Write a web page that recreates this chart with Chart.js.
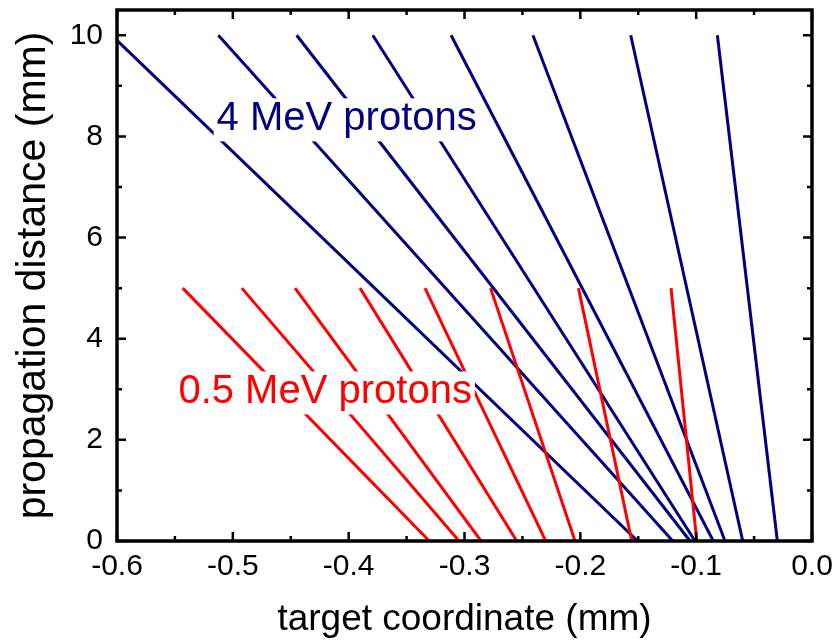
<!DOCTYPE html>
<html>
<head>
<meta charset="utf-8">
<script src="https://cdn.jsdelivr.net/npm/chart.js@4/dist/chart.umd.min.js"></script>
<style>
  body { margin: 0; background: #fff; }
</style>
</head>
<body>
<canvas id="protonChart" width="837" height="643"></canvas>
<script>
// 4 MeV protons: start point (top) and where each one hits the target (y = 0)
const blueStartX = [-0.6, -0.5125, -0.4449, -0.3792, -0.3116, -0.2409, -0.1565, -0.0817];
const blueStartY = [9.9, 10, 10, 10, 10, 10, 10, 10];
const blueEndX   = [-0.1505, -0.1202, -0.1053, -0.1010, -0.0852, -0.0751, -0.0598, -0.0299];

// 0.5 MeV protons
const redStartX = [-0.5433, -0.4923, -0.4463, -0.3902, -0.3341, -0.2775, -0.2016, -0.1217];
const redStartY = [5, 5, 5, 5, 5, 5, 5, 5];
const redEndX   = [-0.3304, -0.3047, -0.2857, -0.2549, -0.2299, -0.2046, -0.1556, -0.0995];

const xTickValues = [-0.6, -0.5, -0.4, -0.3, -0.2, -0.1, 0.0];
const yTickValues = [0, 2, 4, 6, 8, 10];

// text labels, anchored at left/baseline in data coords
const labelText = ['4 MeV protons', '0.5 MeV protons'];
const labelX = [-0.514, -0.547];
const labelY = [8.12, 2.72];
const labelColor = ['#000080', '#ff0000'];

const FONT = '"Liberation Sans", Arial, Helvetica, sans-serif';

function track(x0, y0, x1, color) {
    return {
        data: [{ x: x0, y: y0 }, { x: x1, y: 0 }],
        borderColor: color,
        borderWidth: 3,
        pointRadius: 0,
        showLine: true,
        fill: false
    };
}

// dataset 0 is drawn last, so red goes first to sit on top
const datasets = [];
redStartX.forEach((x, i) => datasets.push(track(x, redStartY[i], redEndX[i], '#ff0000')));
blueStartX.forEach((x, i) => datasets.push(track(x, blueStartY[i], blueEndX[i], '#000080')));

const frameAndLabels = {
    id: 'frameAndLabels',
    afterDatasetsDraw(chart) {
        const { ctx, chartArea: a, scales: { x, y } } = chart;
        ctx.save();

        // labels on white boxes
        ctx.font = '40px ' + FONT;
        ctx.textBaseline = 'alphabetic';
        ctx.textAlign = 'left';
        labelText.forEach((t, i) => {
            const px = x.getPixelForValue(labelX[i]);
            const py = y.getPixelForValue(labelY[i]);
            const w = ctx.measureText(t).width;
            ctx.fillStyle = '#fff';
            ctx.fillRect(px - 3, py - 32, w + 6, 43);
            ctx.fillStyle = labelColor[i];
            ctx.fillText(t, px, py);
        });

        // inward ticks on all four sides
        ctx.strokeStyle = '#000';
        ctx.lineWidth = 2.5;
        ctx.beginPath();
        const xs = x.ticks.map(t => t.value);
        xs.forEach((v, i) => {
            const p = x.getPixelForValue(v);
            ctx.moveTo(p, a.bottom); ctx.lineTo(p, a.bottom - 9);
            ctx.moveTo(p, a.top); ctx.lineTo(p, a.top + 9);
            if (i < xs.length - 1) {
                const m = x.getPixelForValue((v + xs[i + 1]) / 2);
                ctx.moveTo(m, a.bottom); ctx.lineTo(m, a.bottom - 5);
                ctx.moveTo(m, a.top); ctx.lineTo(m, a.top + 5);
            }
        });
        const ys = y.ticks.map(t => t.value);
        ys.forEach((v, i) => {
            const p = y.getPixelForValue(v);
            ctx.moveTo(a.left, p); ctx.lineTo(a.left + 9, p);
            ctx.moveTo(a.right, p); ctx.lineTo(a.right - 9, p);
            if (i < ys.length - 1) {
                const m = y.getPixelForValue((v + ys[i + 1]) / 2);
                ctx.moveTo(a.left, m); ctx.lineTo(a.left + 5, m);
                ctx.moveTo(a.right, m); ctx.lineTo(a.right - 5, m);
            }
        });
        ctx.stroke();

        // frame
        ctx.lineWidth = 3.5;
        ctx.strokeRect(a.left, a.top, a.right - a.left, a.bottom - a.top);
        ctx.restore();
    }
};

const chart = new Chart(document.getElementById('protonChart'), {
    type: 'scatter',
    data: { datasets },
    options: {
        responsive: false,
        animation: false,
        events: [],
        layout: { padding: { top: 10, right: 25, left: 0, bottom: 0 } },
        plugins: { legend: { display: false }, tooltip: { enabled: false } },
        scales: {
            x: {
                type: 'linear',
                min: -0.6,
                max: 0,
                afterFit: s => { s.height = 102; s.paddingLeft = 0; s.paddingRight = 0; },
                afterBuildTicks: s => { s.ticks = xTickValues.map(v => ({ value: v })); },
                grid: { display: false, drawTicks: false },
                border: { display: false },
                ticks: {
                    padding: 8,
                    color: '#000',
                    font: { family: FONT, size: 30 },
                    maxRotation: 0,
                    callback: v => (Math.abs(v) < 1e-9 ? 0 : v).toFixed(1)
                },
                title: {
                    display: true,
                    text: 'target coordinate (mm)',
                    color: '#000',
                    font: { family: FONT, size: 37 },
                    padding: { top: 0, bottom: 1 }
                }
            },
            y: {
                type: 'linear',
                min: 0,
                max: 10.5,
                afterFit: s => { s.width = 117; s.paddingTop = 0; s.paddingBottom = 0; },
                afterBuildTicks: s => { s.ticks = yTickValues.map(v => ({ value: v })); },
                grid: { display: false, drawTicks: false },
                border: { display: false },
                ticks: {
                    padding: 14,
                    color: '#000',
                    font: { family: FONT, size: 30 },
                    callback: v => String(v)
                },
                title: {
                    display: true,
                    text: 'propagation distance (mm)',
                    color: '#000',
                    font: { family: FONT, size: 41 },
                    padding: { top: 9, bottom: 0 }
                }
            }
        }
    },
    plugins: [frameAndLabels]
});
</script>
</body>
</html>
